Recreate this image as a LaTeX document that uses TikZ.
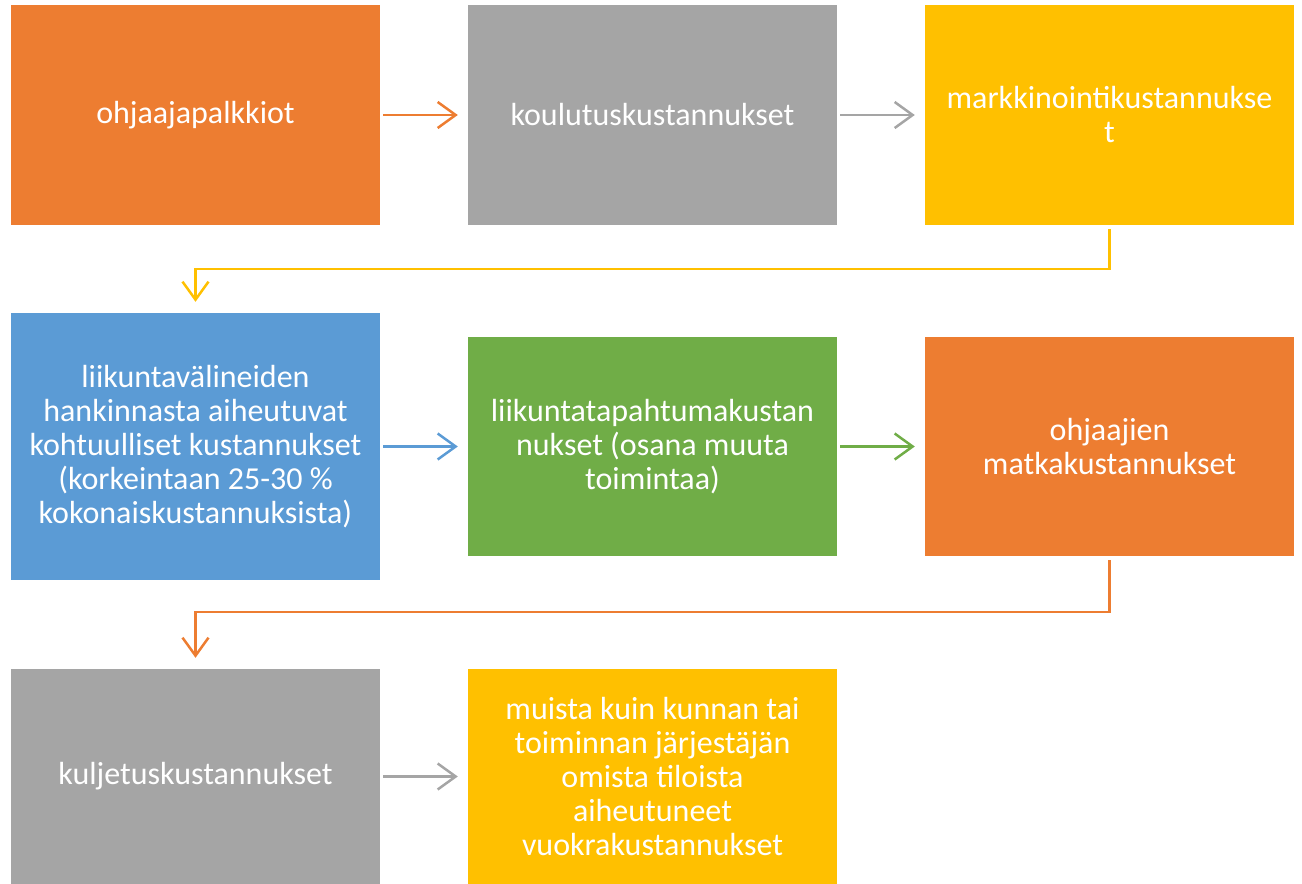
\documentclass[tikz,border=0pt]{standalone}
\usepackage{fontspec}
\setmainfont{Carlito}
\usetikzlibrary{arrows.meta}

\definecolor{korange}{HTML}{ED7D31}
\definecolor{kgray}{HTML}{A5A5A5}
\definecolor{kyellow}{HTML}{FFC000}
\definecolor{kblue}{HTML}{5B9BD5}
\definecolor{kgreen}{HTML}{70AD47}

\tikzstyle{costbox}=[draw=none, text=white, align=center, minimum width=369pt,
  inner sep=0pt, font=\fontsize{32}{34}\selectfont]
\tikzstyle{flow}=[line width=2.5pt, -{Straight Barb[length=18pt,width=26pt,line width=2.5pt]}]

\begin{document}
\begin{tikzpicture}[x=1pt,y=-1pt]
  \useasboundingbox (0,0) rectangle (1302,884);
  % first row
  \node[costbox, fill=korange, minimum height=220pt] (palkkiot) at (195.5,115) {ohjaajapalkkiot};
  \node[costbox, fill=kgray, minimum height=220pt] (koulutus) at (652.5,115) {koulutuskustannukset};
  \node[costbox, fill=kyellow, minimum height=220pt] (markkinointi) at (1109.5,115) {markkinointikustannukse\\t};
  % second row
  \node[costbox, fill=kblue, minimum height=267pt] (valineet) at (195.5,446.5)
    {liikuntavälineiden\\hankinnasta aiheutuvat\\kohtuulliset kustannukset\\(korkeintaan 25-30 \%\\kokonaiskustannuksista)};
  \node[costbox, fill=kgreen, minimum height=219pt] (tapahtumat) at (652.5,446.5)
    {liikuntatapahtumakustan\\nukset (osana muuta\\toimintaa)};
  \node[costbox, fill=korange, minimum height=219pt] (matkat) at (1109.5,446.5)
    {ohjaajien\\matkakustannukset};
  % third row
  \node[costbox, fill=kgray, minimum height=215pt] (kuljetus) at (195.5,776.5) {kuljetuskustannukset};
  \node[costbox, fill=kyellow, minimum height=215pt] (vuokra) at (652.5,776.5)
    {muista kuin kunnan tai\\toiminnan järjestäjän\\omista tiloista\\aiheutuneet\\vuokrakustannukset};

  % connectors
  \draw[flow, korange, shorten <=3pt, shorten >=10pt] (palkkiot.east) -- (koulutus.west);
  \draw[flow, kgray, shorten <=3pt, shorten >=10pt] (koulutus.east) -- (markkinointi.west);
  \draw[flow, kyellow, shorten <=4pt, shorten >=11pt] (markkinointi.south) -- ++(0,44) -| (valineet.north);
  \draw[flow, kblue, shorten <=3pt, shorten >=10pt] (valineet.east) -- (tapahtumat.west);
  \draw[flow, kgreen, shorten <=3pt, shorten >=10pt] (tapahtumat.east) -- (matkat.west);
  \draw[flow, korange, shorten <=4pt, shorten >=11pt] (matkat.south) -- ++(0,56) -| (kuljetus.north);
  \draw[flow, kgray, shorten <=3pt, shorten >=10pt] (kuljetus.east) -- (vuokra.west);
\end{tikzpicture}
\end{document}
